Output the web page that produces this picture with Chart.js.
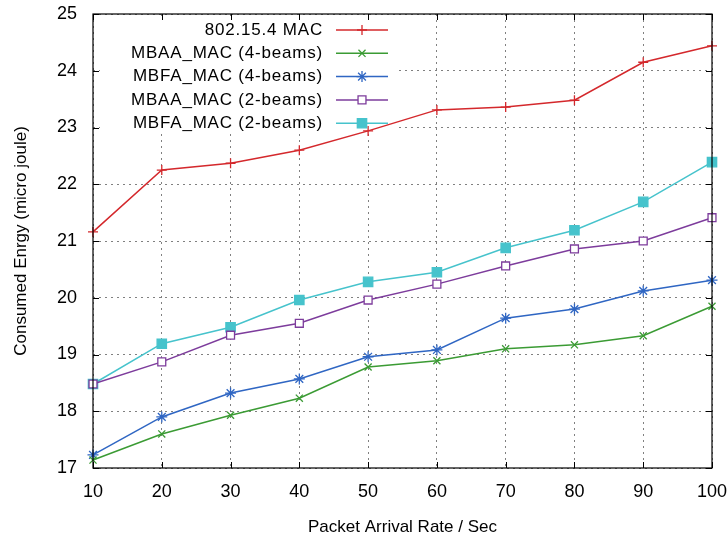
<!DOCTYPE html>
<html>
<head>
<meta charset="utf-8">
<script src="https://cdn.jsdelivr.net/npm/chart.js@4"></script>
<style>
  html, body { margin: 0; padding: 0; background: #fff; }
  #wrap { width: 728px; height: 538px; }
</style>
</head>
<body>
<div id="wrap"><canvas id="myChart" width="728" height="538"></canvas></div>
<script>
const rates = [10, 20, 30, 40, 50, 60, 70, 80, 90, 100];
const mac802 = [21.16, 22.25, 22.37, 22.60, 22.94, 23.31, 23.36, 23.48, 24.15, 24.44];
const mbaa4 = [17.14, 17.60, 17.93, 18.23, 18.78, 18.89, 19.10, 19.17, 19.33, 19.85];
const mbfa4 = [17.23, 17.90, 18.32, 18.57, 18.96, 19.08, 19.64, 19.80, 20.12, 20.31];
const mbaa2 = [18.48, 18.87, 19.34, 19.55, 19.96, 20.24, 20.56, 20.86, 21.00, 21.41];
const mbfa2 = [18.48, 19.19, 19.48, 19.96, 20.28, 20.45, 20.88, 21.19, 21.69, 22.39];
const seriesNames = ["802.15.4 MAC", "MBAA_MAC (4-beams)", "MBFA_MAC (4-beams)", "MBAA_MAC (2-beams)", "MBFA_MAC (2-beams)"];
const yTicks = [17, 18, 19, 20, 21, 22, 23, 24, 25];

const FONT = "'Liberation Sans', Arial, Helvetica, sans-serif";

const toPoints = arr => arr.map((v, i) => ({ x: rates[i], y: v }));

const makeSet = (label, values, color, style, radius, fill) => ({
    label: label,
    data: toPoints(values),
    borderColor: color,
    backgroundColor: fill,
    borderWidth: 1.5,
    pointStyle: style,
    pointRadius: radius,
    pointBorderColor: color,
    pointBackgroundColor: fill,
    pointBorderWidth: 1.3,
    tension: 0,
    clip: false,
});

const noPad = scale => {
    scale.paddingTop = 0;
    scale.paddingBottom = 0;
    scale.paddingLeft = 0;
    scale.paddingRight = 0;
};

// gnuplot-ish frame, inner tick marks and opaque key
const framePlugin = {
    id: "frame",
    beforeDatasetsDraw(chart) {
        const { ctx } = chart;
        ctx.save();
        ctx.fillStyle = "#fff";
        ctx.fillRect(100, 16, 296, 118);
        ctx.restore();
    },
    afterDraw(chart) {
        const { ctx, chartArea: a, scales } = chart;
        ctx.save();
        ctx.strokeStyle = "#000";
        ctx.lineWidth = 1;
        ctx.setLineDash([]);
        ctx.beginPath();
        scales.y.ticks.forEach(t => {
            const y = Math.round(scales.y.getPixelForValue(t.value)) + 0.5;
            ctx.moveTo(a.left, y); ctx.lineTo(a.left + 6, y);
            ctx.moveTo(a.right, y); ctx.lineTo(a.right - 6, y);
        });
        scales.x.ticks.forEach(t => {
            const x = Math.round(scales.x.getPixelForValue(t.value)) + 0.5;
            ctx.moveTo(x, a.bottom); ctx.lineTo(x, a.bottom - 6);
            ctx.moveTo(x, a.top); ctx.lineTo(x, a.top + 6);
        });
        ctx.stroke();

        // key
        ctx.font = "17px " + FONT;
        ctx.letterSpacing = "0.8px";
        ctx.textAlign = "right";
        ctx.textBaseline = "middle";
        chart.data.datasets.forEach((ds, i) => {
            const y = 30 + i * 23.3;
            ctx.fillStyle = "#000";
            ctx.fillText(ds.label, 323, y);
            ctx.strokeStyle = ds.borderColor;
            ctx.lineWidth = ds.borderWidth;
            ctx.beginPath();
            ctx.moveTo(336, y); ctx.lineTo(388, y);
            ctx.stroke();
            ctx.fillStyle = ds.pointBackgroundColor;
            ctx.strokeStyle = ds.pointBorderColor;
            ctx.lineWidth = ds.pointBorderWidth;
            Chart.helpers.drawPoint(ctx, {
                pointStyle: ds.pointStyle,
                radius: ds.pointRadius,
                borderWidth: ds.pointBorderWidth,
                rotation: 0,
            }, 362, y);
        });

        // border
        ctx.strokeStyle = "#000";
        ctx.lineWidth = 1.2;
        ctx.strokeRect(a.left, a.top, a.right - a.left, a.bottom - a.top);
        ctx.restore();
    }
};

const ctx = document.getElementById("myChart");

new Chart(ctx, {
    type: "line",
    data: {
        datasets: [
            makeSet(seriesNames[0], mac802, "#d4282c", "cross", 5, "#d4282c"),
            makeSet(seriesNames[1], mbaa4, "#3b9b34", "crossRot", 5, "#3b9b34"),
            makeSet(seriesNames[2], mbfa4, "#2f66c3", "star", 5.5, "#2f66c3"),
            makeSet(seriesNames[3], mbaa2, "#7d3c9c", "rect", 5.6, "#ffffff"),
            makeSet(seriesNames[4], mbfa2, "#46c3cc", "rect", 6.6, "#46c3cc"),
        ]
    },
    options: {
        responsive: false,
        animation: false,
        layout: { padding: { top: 14, right: 16, left: 0, bottom: 0 } },
        plugins: {
            legend: { display: false },
            tooltip: { enabled: false },
        },
        scales: {
            x: {
                type: "linear",
                min: 10,
                max: 100,
                afterBuildTicks: scale => { scale.ticks = rates.map(v => ({ value: v })); },
                afterFit: scale => { scale.height = 70; noPad(scale); },
                ticks: {
                    color: "#000",
                    font: { family: FONT, size: 18 },
                    padding: 13,
                    maxRotation: 0,
                },
                grid: { color: "#808080", lineWidth: 1, drawTicks: false },
                border: { display: false, dash: [2, 4] },
                title: {
                    display: true,
                    text: "Packet Arrival Rate / Sec",
                    color: "#000",
                    font: { family: FONT, size: 17 },
                    padding: { top: 2, bottom: 0 },
                },
            },
            y: {
                min: 17,
                max: 25,
                afterBuildTicks: scale => { scale.ticks = yTicks.map(v => ({ value: v })); },
                afterFit: scale => { scale.width = 93; noPad(scale); },
                ticks: {
                    color: "#000",
                    font: { family: FONT, size: 18 },
                    padding: 16,
                },
                grid: { color: "#808080", lineWidth: 1, drawTicks: false },
                border: { display: false, dash: [2, 4] },
                title: {
                    display: true,
                    text: "Consumed Enrgy (micro joule)",
                    color: "#000",
                    font: { family: FONT, size: 17 },
                    padding: { top: 11, bottom: 0 },
                },
            }
        }
    },
    plugins: [framePlugin]
});
</script>
</body>
</html>
